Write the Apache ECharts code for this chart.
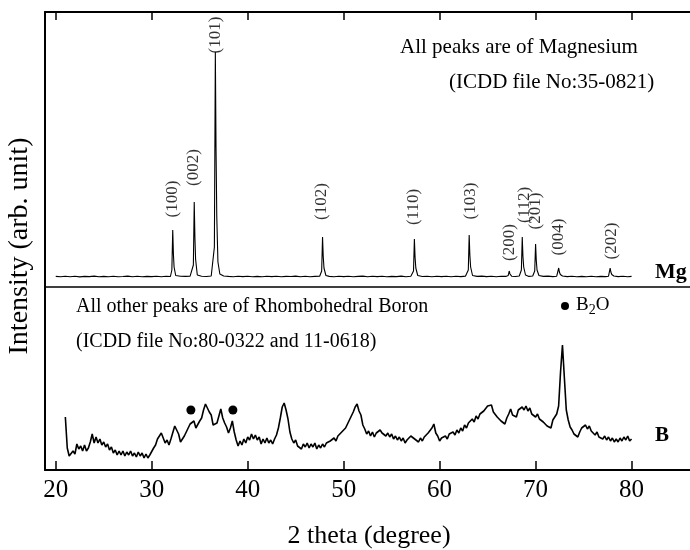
<!DOCTYPE html>
<html>
<head>
<meta charset="utf-8">
<script src="https://cdn.jsdelivr.net/npm/echarts@6/dist/echarts.min.js"></script>
<style>html,body{margin:0;padding:0;background:#fff}#c{width:690px;height:550px}</style>
</head>
<body>
<div id="c"></div>
<script>
// 2θ tick labels
const tickValues = [20, 30, 40, 50, 60, 70, 80];

// Mg pattern: [2θ, intensity (arb.)]
const mgPattern = [
[20.0,10.6],[20.5,10.2],[21,10.8],[21.5,10.3],[22,10.7],[22.5,10.1],[23,10.6],[23.5,10.4],[24,10.9],[24.5,10.2],
[25,10.6],[25.5,10.3],[26,10.8],[26.5,10.2],[27,10.5],[27.5,10.9],[28,10.3],[28.5,10.7],[29,10.2],[29.5,10.6],
[30,10.4],[30.5,10.8],[31,10.3],[31.5,10.7],[31.95,10.5],
[32.1,17],[32.19,57],[32.26,33],[32.33,20],[32.5,11.5],[33,10.8],[33.5,10.6],[34.0,10.9],
[34.2,11.5],[34.34,22],[34.43,85],[34.5,50],[34.57,28],[34.75,12],[35.2,10.8],[35.7,10.5],[36.2,11],
[36.4,13],[36.53,40],[36.63,235],[36.7,140],[36.78,70],[36.9,25],[37.1,13],[37.5,11],[38,10.6],
[38.5,10.3],[39,10.8],[39.5,10.4],[40,10.7],[40.5,10.2],[41,10.6],[41.5,10.3],[42,10.8],[42.5,10.4],[43,10.7],
[43.5,10.2],[44,10.6],[44.5,10.5],[45,10.9],[45.5,10.3],[46,10.7],[46.5,10.2],[47,10.6],[47.5,10.8],
[47.71,16],[47.8,50],[47.87,31],[47.95,19],[48.15,11.5],[48.5,10.6],[49,10.3],
[49.5,10.8],[50,10.4],[50.5,10.7],[51,10.2],[51.5,10.6],[52,10.9],[52.5,10.3],[53,10.7],[53.5,10.4],[54,10.8],
[54.5,10.2],[55,10.6],[55.5,10.4],[56,10.9],[56.5,10.3],[57.0,10.8],
[57.28,16],[57.37,48],[57.44,30],[57.52,19],[57.72,11.5],[58.2,10.5],[58.7,10.8],[59.2,10.3],[59.7,10.7],
[60.2,10.4],[60.7,10.8],[61.2,10.3],[61.7,10.7],[62.2,10.4],[62.7,10.9],
[62.99,17],[63.08,52],[63.15,32],[63.23,20],[63.43,11.5],[63.9,10.6],[64.4,10.9],[64.9,10.4],[65.4,10.8],
[65.9,10.3],[66.4,10.7],[66.9,10.6],
[67.15,11.5],[67.25,16],[67.33,13],[67.5,10.8],[67.9,10.5],[68.3,11],
[68.52,17],[68.61,50],[68.68,31],[68.76,20],[68.95,12],[69.3,10.6],[69.7,11],
[69.91,16],[70.0,43],[70.07,27],[70.15,17],[70.35,11.5],[70.8,10.6],[71.3,10.9],[71.8,10.4],[72.2,10.8],
[72.33,12],[72.41,19],[72.48,15],[72.58,12.5],[72.8,11],[73.3,10.4],[73.8,10.7],[74.3,10.2],[74.8,10.6],
[75.3,10.3],[75.8,10.7],[76.3,10.2],[76.8,10.6],[77.3,10.4],[77.6,10.8],
[77.69,12.5],[77.77,19],[77.84,15],[77.94,12.5],[78.15,11],[78.6,10.4],[79.1,10.7],[79.6,10.3],[80.0,10.6]
];

// Mg peak labels (Miller indices), 2θ and label anchor intensity
const mgLabels = ['(100)','(002)','(101)','(102)','(110)','(103)','(200)','(112)','(201)','(004)','(202)'];
const mgLabelAngle = [32.13, 34.33, 36.7, 47.73, 57.24, 63.18, 67.25, 68.85, 69.97, 72.34, 77.87];
const mgLabelLevel = [88, 119.5, 252, 85.5, 80, 86, 44.5, 82, 76, 50, 46];

// Boron pattern: [2θ, intensity (arb.)]
const bPattern = [
[21.0,53],[21.2,22],[21.4,14],[21.6,12],[21.8,19],[22.0,16],[22.2,26],[22.4,21],[22.6,24],[22.8,19],
[23.0,25],[23.2,19],[23.4,22],[23.6,28],[23.8,36],[24.0,27],[24.2,33],[24.4,27],[24.6,31],[24.8,25],
[25.0,28],[25.2,23],[25.4,26],[25.6,20],[25.8,23],[26.0,17],[26.2,20],[26.4,15],[26.6,19],[26.8,15],
[27.0,19],[27.2,14],[27.4,18],[27.6,15],[27.8,19],[28.0,14],[28.2,17],[28.4,13],[28.6,18],[28.8,14],
[29.0,17],[29.2,12],[29.4,16],[29.6,12],[29.8,15],[30.0,17],[30.2,22],[30.4,25],[30.6,31],[30.8,29],
[31.0,37],[31.2,36],[31.4,27],[31.6,30],[31.8,25],[32.0,31],[32.2,33],[32.4,44],[32.6,46],[32.8,36],
[33.0,28],[33.2,30],[33.4,34],[33.6,38],[33.8,40],[34.0,46],[34.2,44],[34.4,49],[34.6,42],[34.8,43],
[35.0,49],[35.2,52],[35.4,60],[35.6,66],[35.8,68],[36.0,58],[36.2,55],[36.4,45],[36.6,44],[36.8,47],
[37.0,54],[37.2,61],[37.4,52],[37.6,47],[37.8,43],[38.0,37],[38.2,42],[38.4,49],[38.6,38],[38.8,30],
[39.0,24],[39.2,29],[39.4,25],[39.6,31],[39.8,27],[40.0,33],[40.2,30],[40.4,36],[40.6,31],[40.8,35],
[41.0,30],[41.2,33],[41.4,26],[41.6,31],[41.8,27],[42.0,32],[42.2,27],[42.4,30],[42.6,26],[42.8,31],
[43.0,35],[43.2,42],[43.4,52],[43.6,63],[43.8,67],[44.0,60],[44.2,51],[44.4,38],[44.6,31],[44.8,27],
[45.0,30],[45.2,24],[45.4,26],[45.6,21],[45.8,26],[46.0,23],[46.2,27],[46.4,22],[46.6,26],[46.8,23],
[47.0,27],[47.2,21],[47.4,25],[47.6,22],[47.8,26],[48.0,23],[48.2,27],[48.4,26],[48.6,29],[48.8,28],
[49.0,32],[49.2,29],[49.4,34],[49.6,33],[49.8,38],[50.0,37],[50.2,42],[50.4,44],[50.6,50],[50.8,52],
[51.0,58],[51.2,63],[51.4,66],[51.6,59],[51.8,55],[52.0,45],[52.2,41],[52.4,36],[52.6,39],[52.8,34],
[53.0,38],[53.2,33],[53.4,37],[53.6,36],[53.8,40],[54.0,37],[54.2,39],[54.4,34],[54.6,37],[54.8,33],
[55.0,36],[55.2,31],[55.4,34],[55.6,30],[55.8,33],[56.0,29],[56.2,32],[56.4,27],[56.6,30],[56.8,29],
[57.0,34],[57.2,36],[57.4,31],[57.6,33],[57.8,28],[58.0,32],[58.2,29],[58.4,33],[58.6,35],[58.8,37],
[59.0,39],[59.2,42],[59.4,46],[59.6,37],[59.8,34],[60.0,29],[60.2,32],[60.4,30],[60.6,34],[60.8,31],
[61.0,36],[61.2,34],[61.4,38],[61.6,35],[61.8,40],[62.0,37],[62.2,42],[62.4,39],[62.6,45],[62.8,42],
[63.0,47],[63.2,46],[63.4,51],[63.6,48],[63.8,54],[64.0,51],[64.2,56],[64.4,54],[64.6,59],[64.8,57],
[65.0,64],[65.2,62],[65.4,65],[65.6,58],[65.8,60],[66.0,53],[66.2,55],[66.4,49],[66.6,49],[66.8,46],
[67.0,52],[67.2,56],[67.4,61],[67.6,55],[67.8,57],[68.0,53],[68.2,60],[68.4,58],[68.6,63],[68.8,60],
[69.0,64],[69.2,59],[69.4,62],[69.6,56],[69.8,58],[70.0,53],[70.2,56],[70.4,51],[70.6,53],[70.8,48],
[71.0,50],[71.2,44],[71.4,46],[71.6,42],[71.8,50],[72.0,52],[72.2,56],[72.4,64],[72.6,98],[72.8,125],
[73.0,92],[73.2,60],[73.4,50],[73.6,43],[73.8,40],[74.0,36],[74.2,38],[74.4,33],[74.6,38],[74.8,42],
[75.0,40],[75.2,45],[75.4,41],[75.6,44],[75.8,39],[76.0,40],[76.2,35],[76.4,38],[76.6,33],[76.8,35],
[77.0,31],[77.2,34],[77.4,30],[77.6,33],[77.8,29],[78.0,32],[78.2,28],[78.4,31],[78.6,28],[78.8,32],
[79.0,29],[79.2,33],[79.4,30],[79.6,34],[79.8,29],[80.0,31]
];

// B2O marker positions: [2θ, intensity]
const b2oMarks = [[34.08, 60], [38.46, 60]];

const FONT = "'Liberation Serif','Times New Roman',serif";
const X_MIN = 18.88, X_MAX = 86.09;

const chart = echarts.init(document.getElementById('c'), null, {renderer: 'canvas'});

const hiddenY = (gi, max) => ({
  type: 'value', gridIndex: gi, min: 0, max: max,
  axisLine: {show: true, lineStyle: {color: '#000', width: 2}},
  axisTick: {show: false}, axisLabel: {show: false}, splitLine: {show: false}
});

chart.setOption({
  animation: false,
  backgroundColor: '#fff',
  grid: [
    {left: 45, top: 12, width: 660, height: 275},
    {left: 45, top: 287, width: 660, height: 183}
  ],
  xAxis: [
    { type: 'value', gridIndex: 0, position: 'top', min: X_MIN, max: X_MAX,
      axisLine: {show: true, onZero: false, lineStyle: {color: '#000', width: 2}},
      axisTick: {show: true, inside: true, length: 8, customValues: tickValues, lineStyle: {color: '#000', width: 1.5}},
      axisLabel: {show: false}, splitLine: {show: false} },
    { type: 'value', gridIndex: 1, position: 'bottom', min: X_MIN, max: X_MAX,
      axisLine: {show: true, onZero: false, lineStyle: {color: '#000', width: 2}},
      axisTick: {show: true, inside: true, length: 9, customValues: tickValues, lineStyle: {color: '#000', width: 1.5}},
      axisLabel: {show: true, customValues: tickValues, margin: 8, color: '#000', fontFamily: FONT, fontSize: 25},
      splitLine: {show: false} },
    { type: 'value', gridIndex: 1, position: 'top', min: X_MIN, max: X_MAX,
      axisLine: {show: true, onZero: false, lineStyle: {color: '#000', width: 1.6}},
      axisTick: {show: false}, axisLabel: {show: false}, splitLine: {show: false} }
  ],
  yAxis: [hiddenY(0, 275), hiddenY(1, 183)],
  series: [
    { type: 'line', xAxisIndex: 0, yAxisIndex: 0, data: mgPattern, showSymbol: false,
      lineStyle: {color: '#000', width: 1.1}, silent: true },
    { type: 'scatter', xAxisIndex: 0, yAxisIndex: 0, symbolSize: 0, silent: true,
      data: mgLabels.map((n, i) => ({name: n, value: [mgLabelAngle[i], mgLabelLevel[i]]})),
      label: {show: true, position: 'inside', rotate: 90, formatter: p => p.name,
              color: '#000', fontFamily: FONT, fontSize: 17} },
    { type: 'line', xAxisIndex: 1, yAxisIndex: 1, data: bPattern, showSymbol: false,
      lineStyle: {color: '#000', width: 1.6}, silent: true },
    { type: 'scatter', xAxisIndex: 1, yAxisIndex: 1, data: b2oMarks, symbol: 'circle', symbolSize: 9,
      itemStyle: {color: '#000', opacity: 1}, silent: true }
  ],
  graphic: [
    {type: 'text', x: 20, y: 246, rotation: Math.PI / 2,
     style: {text: 'Intensity (arb. unit)', font: '28px ' + FONT, fill: '#000', align: 'center', verticalAlign: 'middle'}},
    {type: 'text', x: 369, y: 536,
     style: {text: '2 theta (degree)', font: '26px ' + FONT, fill: '#000', align: 'center', verticalAlign: 'middle'}},
    {type: 'text', x: 400, y: 47,
     style: {text: 'All peaks are of Magnesium', font: '21px ' + FONT, fill: '#000', align: 'left', verticalAlign: 'middle'}},
    {type: 'text', x: 449, y: 82,
     style: {text: '(ICDD file No:35-0821)', font: '21px ' + FONT, fill: '#000', align: 'left', verticalAlign: 'middle'}},
    {type: 'text', x: 76, y: 307,
     style: {text: 'All other peaks are of Rhombohedral Boron', font: '20px ' + FONT, fill: '#000', align: 'left', verticalAlign: 'middle'}},
    {type: 'text', x: 76, y: 342,
     style: {text: '(ICDD file No:80-0322 and 11-0618)', font: '20px ' + FONT, fill: '#000', align: 'left', verticalAlign: 'middle'}},
    {type: 'circle', shape: {cx: 565, cy: 306, r: 4}, style: {fill: '#000'}},
    {type: 'text', x: 576, y: 305,
     style: {text: '{a|B}{s|2}{a|O}', fill: '#000', align: 'left', verticalAlign: 'middle',
             rich: {a: {fontFamily: FONT, fontSize: 19, fill: '#000'},
                    s: {fontFamily: FONT, fontSize: 14, fill: '#000', padding: [10, 0, 0, 0]}}}},
    {type: 'text', x: 655, y: 272,
     style: {text: 'Mg', font: 'bold 22px ' + FONT, fill: '#000', align: 'left', verticalAlign: 'middle'}},
    {type: 'text', x: 655, y: 436,
     style: {text: 'B', font: 'bold 21px ' + FONT, fill: '#000', align: 'left', verticalAlign: 'middle'}}
  ]
});
</script>
</body>
</html>
